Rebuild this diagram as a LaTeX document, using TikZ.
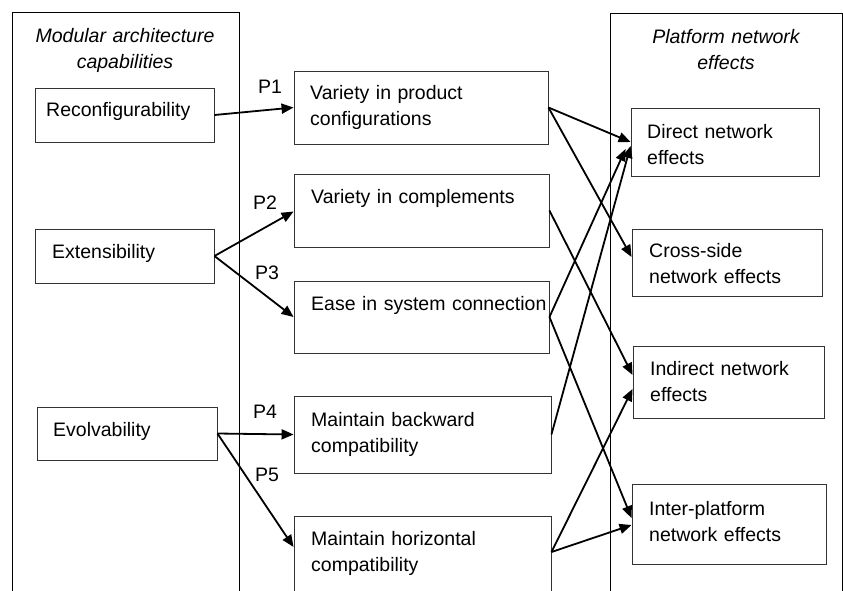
\documentclass[tikz,border=0pt]{standalone}
\usepackage{fontspec}
\setmainfont{Liberation Sans}
\usetikzlibrary{arrows.meta}
\begin{document}
\begin{tikzpicture}[x=1pt,y=-1pt,
  every node/.style={font=\fontsize{19.5}{26}\selectfont},
  outer/.style={draw=black,line width=0.9pt,inner sep=0pt},
  box/.style={draw=black!80,line width=0.9pt,inner sep=0pt},
  lbl/.style={anchor=base west,inner sep=0pt,text width=#1,align=left},
  lbl/.default=230pt,
  ttl/.style={anchor=base,inner sep=0pt,text width=220pt,align=center,font=\fontsize{19.5}{26}\selectfont\itshape},
  plab/.style={anchor=base west,inner sep=0pt},
  arr/.style={-{Triangle[length=12pt,width=10pt]},line width=1.8pt}]
\useasboundingbox (0,0) rectangle (843,590);
\clip (0,0) rectangle (843,590);
% columns
\node[outer,minimum width=227pt,minimum height=608pt] (lcol) at (125.5,316) {};
\node[outer,minimum width=232pt,minimum height=607pt] (rcol) at (726,316.5) {};
\node[ttl] (lt) at (125,42) {Modular architecture\\capabilities};
\node[ttl] (rt) at (726,43) {Platform network\\effects};
% left boxes
\node[box,minimum width=179pt,minimum height=54pt] (rec) at (124.5,115) {};
\node[box,minimum width=179pt,minimum height=54pt] (ext) at (124.5,256) {};
\node[box,minimum width=180pt,minimum height=53pt] (evo) at (127,433.5) {};
\node[lbl=170pt] (trec) at (46,116.5) {Reconfigurability};
\node[lbl=160pt] (text) at (52,258) {Extensibility};
\node[lbl=160pt] (tevo) at (53,436) {Evolvability};
% middle boxes
\node[box,minimum width=254pt,minimum height=73pt] (vp) at (421,107.5) {};
\node[box,minimum width=255pt,minimum height=73pt] (vc) at (421.5,210.5) {};
\node[box,minimum width=255pt,minimum height=72pt] (es) at (421.5,317) {};
\node[box,minimum width=257pt,minimum height=77pt] (bk) at (422.5,434.5) {};
\node[box,minimum width=257pt,minimum height=94pt] (hz) at (422.5,563) {};
\node[lbl] (tvp) at (310,99) {Variety in product\\configurations};
\node[lbl] (tvc) at (311,203) {Variety in complements};
\node[lbl=236pt] (tes) at (311,310) {Ease in system connection};
\node[lbl] (tbk) at (311,426) {Maintain backward\\compatibility};
\node[lbl] (thz) at (311,545) {Maintain horizontal\\compatibility};
% right boxes
\node[box,minimum width=188pt,minimum height=68pt] (dn) at (725,142) {};
\node[box,minimum width=190pt,minimum height=67pt] (cs) at (727,262.5) {};
\node[box,minimum width=191pt,minimum height=72pt] (in) at (728.5,382) {};
\node[box,minimum width=194pt,minimum height=80pt] (ip) at (729,524) {};
\node[lbl=170pt] (tdn) at (647,138) {Direct network\\effects};
\node[lbl=170pt] (tcs) at (649,257) {Cross-side\\network effects};
\node[lbl=170pt] (tin) at (650,375) {Indirect network\\effects};
\node[lbl=170pt] (tip) at (649,515) {Inter-platform\\network effects};
% P labels
\node[plab] (p1) at (258,93) {P1};
\node[plab] (p2) at (253,209) {P2};
\node[plab] (p3) at (255,279) {P3};
\node[plab] (p4) at (253,418) {P4};
\node[plab] (p5) at (255,481) {P5};
% arrows left -> middle
\draw[arr] (rec.east) -- (vp.west);
\draw[arr] (ext.east) -- ([yshift=-1pt]vc.west);
\draw[arr] (ext.east) -- (es.west);
\draw[arr] (evo.east) -- (bk.west);
\draw[arr] (evo.east) -- ([yshift=16pt]hz.west);
% arrows middle -> right
\draw[arr] (vp.east) -- (dn.west);
\draw[arr] (vp.east) -- ([yshift=5.5pt]cs.west);
\draw[arr] (vc.east) -- ([yshift=7pt]in.west);
\draw[arr] (es.east) -- ([xshift=-5pt,yshift=-7pt]dn.west);
\draw[arr] (es.east) -- ([yshift=6pt]ip.west);
\draw[arr] (bk.east) -- ([yshift=-4pt]dn.west);
\draw[arr] ([yshift=11pt]hz.east) -- ([yshift=-7pt]in.west);
\draw[arr] ([yshift=11pt]hz.east) -- ([yshift=-1pt]ip.west);
\end{tikzpicture}
\end{document}
